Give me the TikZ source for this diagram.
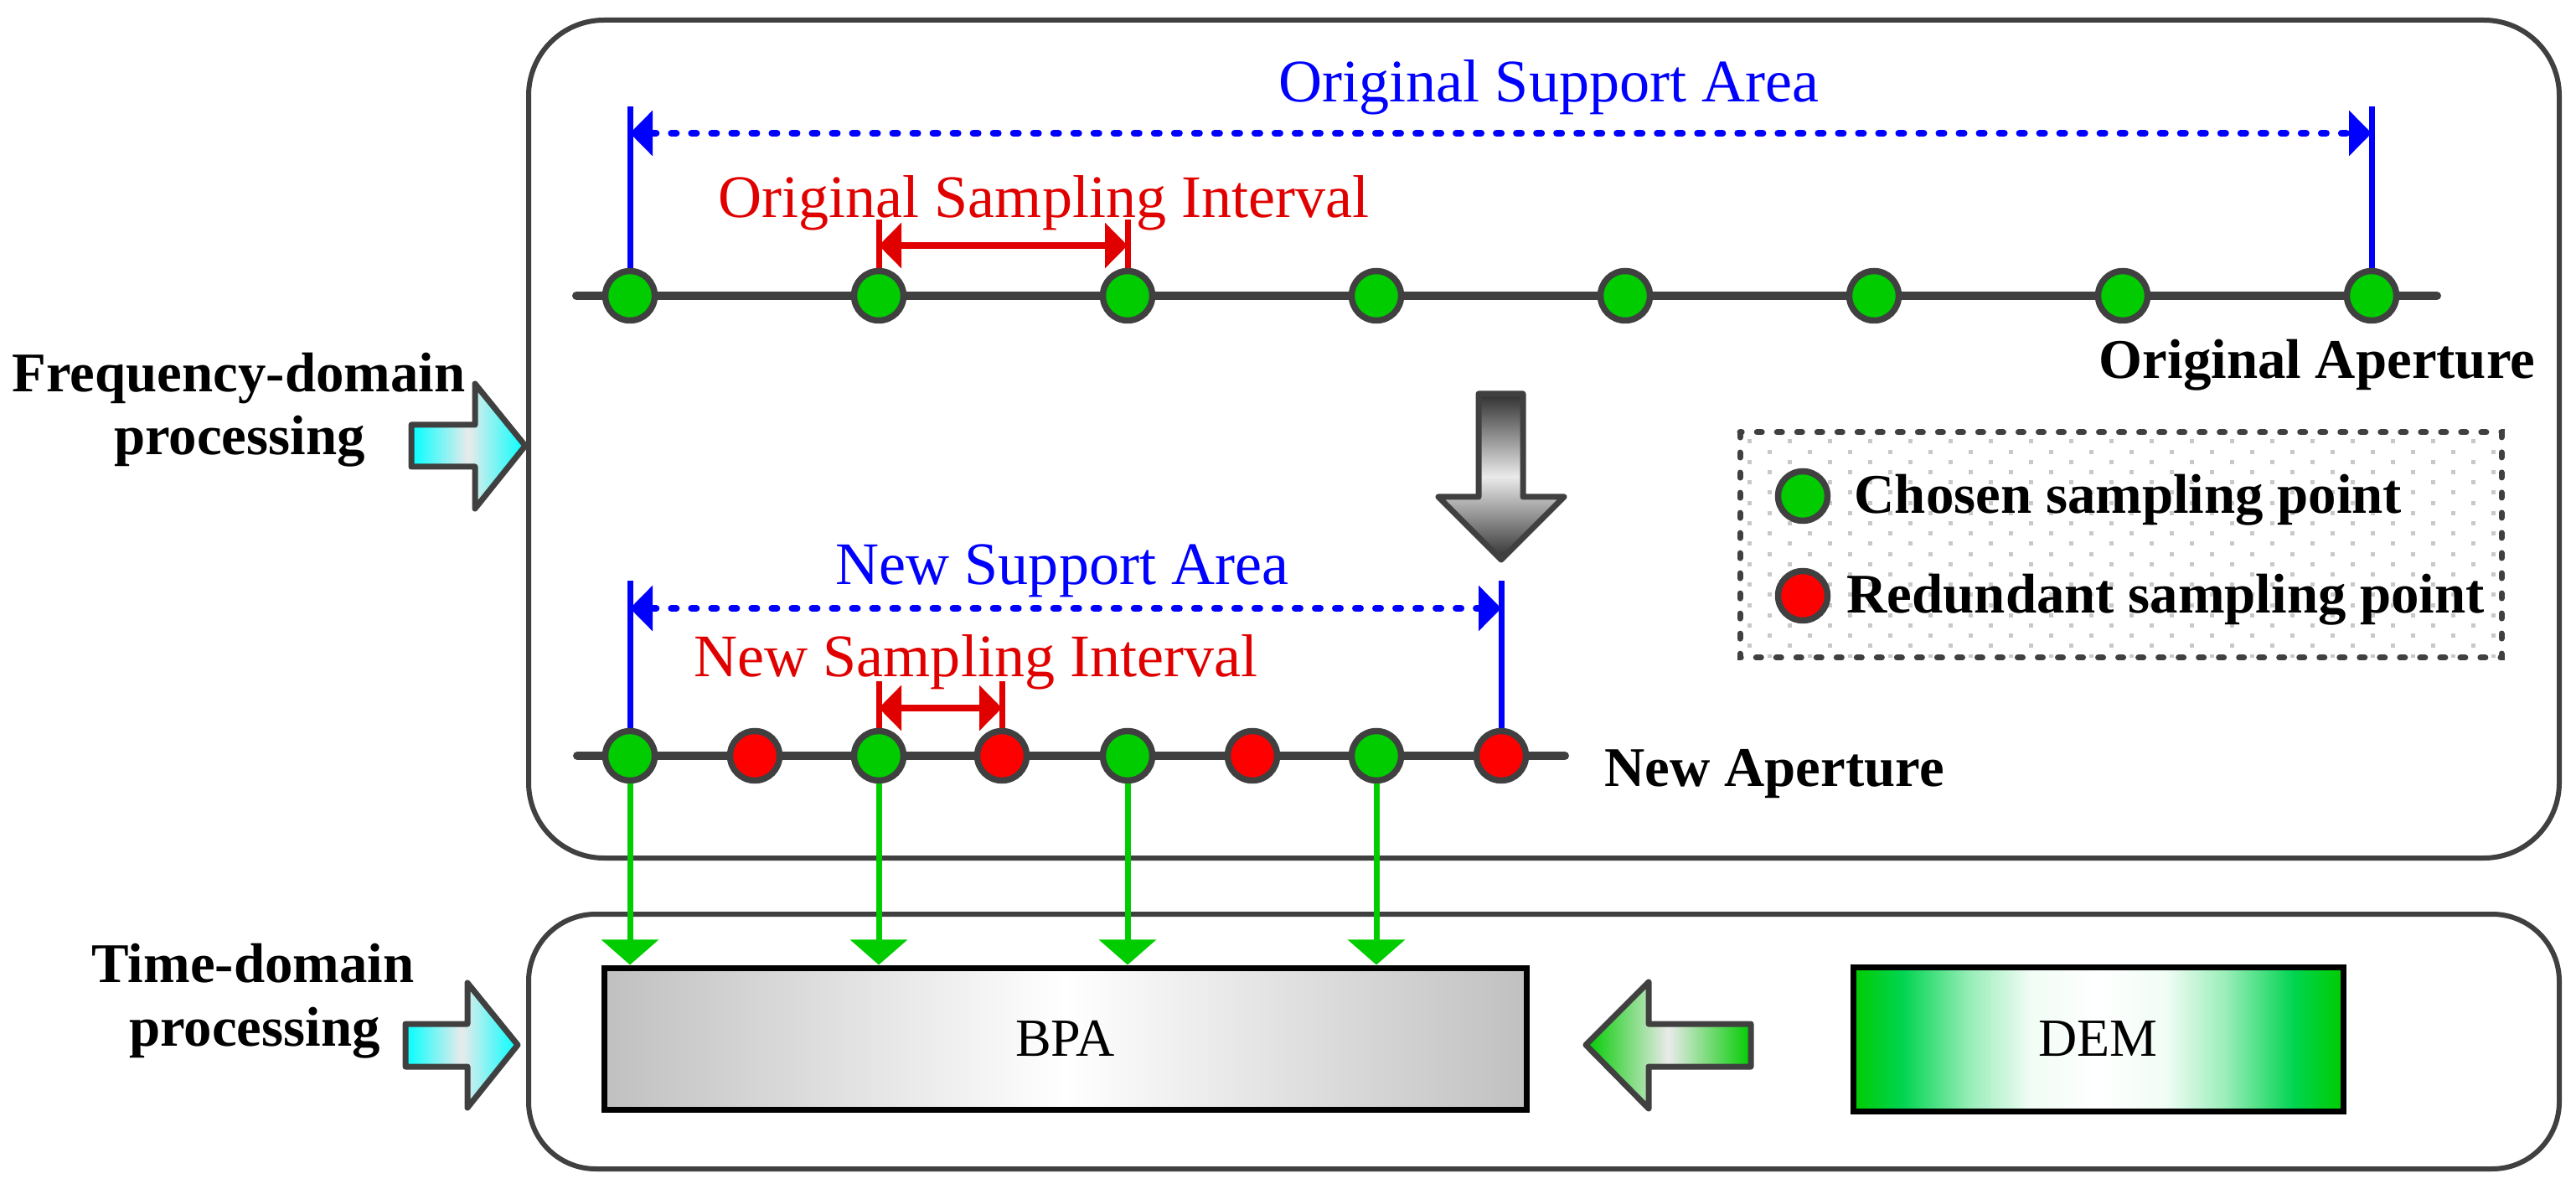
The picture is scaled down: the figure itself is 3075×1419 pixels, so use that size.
\documentclass[tikz,border=0pt]{standalone}
\usepackage{fontspec}
\setmainfont{Liberation Serif}
\usetikzlibrary{arrows.meta,shapes.geometric}
\newdimen\pxu \pxu=0.01cm
\definecolor{bordergray}{HTML}{404040}
\definecolor{ptgreen}{RGB}{0,204,0}
\definecolor{demg}{RGB}{0,212,80}
\definecolor{ptred}{RGB}{255,0,0}
\definecolor{lblred}{RGB}{224,0,0}
\definecolor{lblblue}{RGB}{0,0,255}
\definecolor{dotgray}{RGB}{200,200,200}
\definecolor{arrcyan}{RGB}{0,255,255}
\definecolor{lightmid}{RGB}{234,234,234}
\definecolor{darkg}{RGB}{48,48,48}
\definecolor{bpagray}{RGB}{192,192,192}
\pgfdeclarehorizontalshading{demshade}{100bp}{color(0bp)=(ptgreen); color(25bp)=(ptgreen); color(30bp)=(demg); color(37bp)=(demg!40!white); color(43bp)=(demg!6!white); color(50bp)=(white); color(57bp)=(demg!6!white); color(63bp)=(demg!40!white); color(70bp)=(demg); color(75bp)=(ptgreen); color(100bp)=(ptgreen)}
\tikzset{
  panel/.style={draw=bordergray, line width=6\pxu, rounded corners=90\pxu},
  axisline/.style={draw=bordergray, line width=10\pxu, line cap=round},
  chosen/.style={circle, draw=bordergray, fill=ptgreen, line width=7.5\pxu, minimum size=59\pxu, inner sep=0pt},
  redund/.style={chosen, fill=ptred},
  blbl/.style={font=\fontsize{20.5}{24}\selectfont, text=lblblue, inner sep=0pt, anchor=base},
  rlbl/.style={font=\fontsize{20.5}{24}\selectfont, text=lblred, inner sep=0pt, anchor=base},
  klbl/.style={font=\fontsize{19}{23}\selectfont\bfseries, inner sep=0pt, anchor=base},
  boxlbl/.style={font=\fontsize{18.2}{22}\selectfont, inner sep=0pt},
  bluevert/.style={draw=lblblue, line width=7\pxu},
  bluedim/.style={draw=lblblue, line width=8\pxu, line cap=round, dash pattern=on 1.71pt off 5.12pt,
     arrows={Triangle[length=7.68pt,width=15.08pt]-Triangle[length=7.68pt,width=15.08pt]}},
  redvert/.style={draw=lblred, line width=7\pxu},
  reddim/.style={draw=lblred, line width=8\pxu,
     arrows={Triangle[length=7.68pt,width=15.08pt]-Triangle[length=7.68pt,width=15.08pt]}},
  feed/.style={draw=ptgreen, line width=7\pxu, arrows={-Triangle[length=8.54pt,width=19.06pt]}},
  fatarrow/.style={draw=bordergray, line width=7\pxu, line join=round},
  procbox/.style={rectangle, draw=black, line width=7\pxu, inner sep=0pt},
}
\begin{document}
\begin{tikzpicture}[x=0.01cm,y=-0.01cm]
\useasboundingbox (0,0) rectangle (3075,1419);
% panels
\draw[panel] (631,24) rectangle (3055,1024);
\draw[panel, rounded corners=80\pxu] (631,1091) rectangle (3055,1395);
% side arrows and labels
\shadedraw[fatarrow, left color=arrcyan, right color=arrcyan, middle color=lightmid]
  (491,507) -- (567,507) -- (567,458) -- (627,532) -- (567,607) -- (567,557) -- (491,557) -- cycle;
\shadedraw[fatarrow, left color=arrcyan, right color=arrcyan, middle color=lightmid]
  (484,1222) -- (558,1222) -- (558,1173) -- (618,1247) -- (558,1322) -- (558,1273) -- (484,1273) -- cycle;
\node[klbl] (fd1) at (285,468) {Frequency-domain};
\node[klbl] (fd2) at (286,543) {processing};
\node[klbl] (td1) at (302,1172) {Time-domain};
\node[klbl] (td2) at (304,1248) {processing};
% ---------- original aperture ----------
\foreach \i/\x in {1/752,2/1049,3/1346,4/1643,5/1940,6/2237,7/2534,8/2831}
  \coordinate (po\i) at (\x,353);
\coordinate (oL) at (688,353);
\coordinate (oR) at (2909,353);
\draw[axisline] (oL) -- (oR);
\coordinate (osaL) at (752,127);
\coordinate (osaR) at (2831,127);
\coordinate (osaLd) at (752,159);
\coordinate (osaRd) at (2831,159);
\draw[bluevert] (po1) -- (osaL);
\draw[bluevert] (po8) -- (osaR);
\draw[bluedim] (osaLd) -- (osaRd);
\coordinate (osiL) at (1049,262);
\coordinate (osiR) at (1346,262);
\coordinate (osiLd) at (1049,293);
\coordinate (osiRd) at (1346,293);
\draw[redvert] (po2) -- (osiL);
\draw[redvert] (po3) -- (osiR);
\draw[reddim] (osiLd) -- (osiRd);
\foreach \i in {1,...,8} \node[chosen] (o\i) at (po\i) {};
\node[blbl] (osa) at (1849,122) {Original Support Area};
\node[rlbl] (osi) at (1246,260) {Original Sampling Interval};
\node[klbl] (oap) at (2766,452) {Original Aperture};
% ---------- down arrow ----------
\shadedraw[fatarrow, top color=darkg, bottom color=darkg, middle color=lightmid]
  (1765,470) -- (1818,470) -- (1818,593) -- (1867,593) -- (1792,668) -- (1717,593) -- (1765,593) -- cycle;
% ---------- new aperture ----------
\foreach \i/\x in {1/752,2/901,3/1049,4/1196,5/1346,6/1495,7/1643,8/1792}
  \coordinate (pn\i) at (\x,902);
\coordinate (nL) at (689,902);
\coordinate (nR) at (1868,902);
\draw[axisline] (nL) -- (nR);
\coordinate (nsaL) at (752,693);
\coordinate (nsaR) at (1792,693);
\coordinate (nsaLd) at (752,726);
\coordinate (nsaRd) at (1792,726);
\draw[bluevert] (pn1) -- (nsaL);
\draw[bluevert] (pn8) -- (nsaR);
\draw[bluedim] (nsaLd) -- (nsaRd);
\coordinate (nsiL) at (1049,813);
\coordinate (nsiR) at (1196,813);
\coordinate (nsiLd) at (1049,845);
\coordinate (nsiRd) at (1196,845);
\draw[redvert] (pn3) -- (nsiL);
\draw[redvert] (pn4) -- (nsiR);
\draw[reddim] (nsiLd) -- (nsiRd);
\foreach \i in {1,3,5,7} \node[chosen] (n\i) at (pn\i) {};
\foreach \i in {2,4,6,8} \node[redund] (n\i) at (pn\i) {};
\node[blbl] (nsa) at (1268,698) {New Support Area};
\node[rlbl] (nsi) at (1165,808) {New Sampling Interval};
\node[klbl, anchor=base west] (nap) at (1915,939) {New Aperture};
% ---------- legend ----------
\begin{scope}
  \clip (2077,516) rectangle (2986,785);
  \foreach \r in {0,...,21}{
    \foreach \c in {0,...,19}{
      \pgfmathsetmacro\dx{2088+48*\c+24*mod(\r,2)}
      \pgfmathsetmacro\dy{527+12.2*\r}
      \fill[dotgray] (\dx-2.5,\dy-2.5) rectangle ++(5,5);
    }
  }
\end{scope}
\draw[draw=bordergray, line width=7\pxu, line cap=round, dash pattern=on 1.71pt off 5.12pt]
  (2077,516) rectangle (2986,785);
\node[chosen] (lg1) at (2152,592) {};
\node[redund] (lg2) at (2152,711) {};
\node[klbl, anchor=base west] (lgt1) at (2213,613) {Chosen sampling point};
\node[klbl, anchor=base west] (lgt2) at (2204,732) {Redundant sampling point};
% ---------- time-domain boxes ----------
\node[procbox, shade, left color=bpagray, right color=bpagray, middle color=white,
      minimum width=1101\pxu, minimum height=169\pxu] (bpa) at (1271.5,1239.5) {};
\node[boxlbl] (bpat) at (bpa.center) {BPA};
\node[procbox, shade, shading=demshade,
      minimum width=585\pxu, minimum height=172\pxu] (dem) at (2504.5,1240) {};
\node[boxlbl] (demt) at (dem.center) {DEM};
\shadedraw[fatarrow, left color=ptgreen, right color=ptgreen, middle color=lightmid]
  (2090,1222) -- (1968,1222) -- (1968,1172) -- (1893,1247) -- (1968,1323) -- (1968,1273) -- (2090,1273) -- cycle;
% feed arrows
\foreach \i in {1,3,5,7}
  \draw[feed] (n\i.south) -- (n\i.south |- bpa.north);
\end{tikzpicture}
\end{document}
